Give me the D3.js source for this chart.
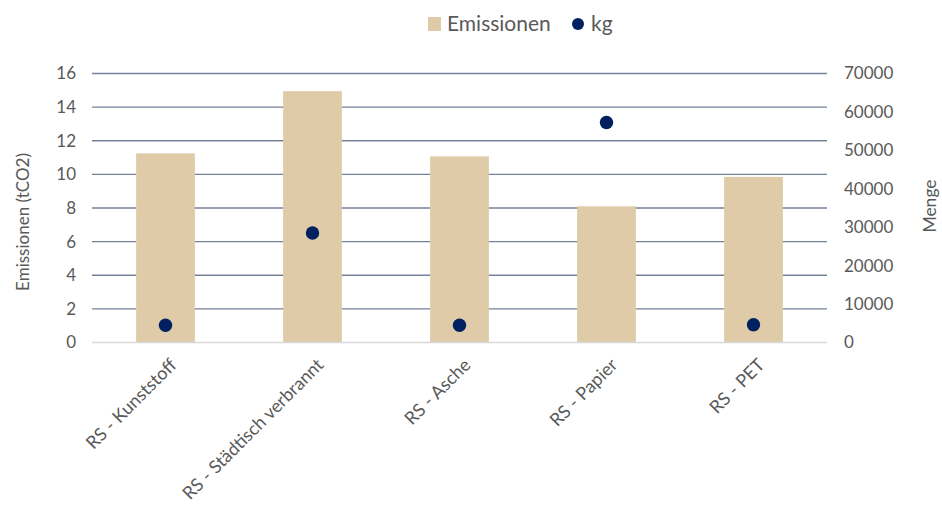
<!DOCTYPE html>
<html>
<head>
<meta charset="utf-8">
<script src="https://cdn.jsdelivr.net/npm/d3@7"></script>
<style>
  html, body { margin: 0; padding: 0; background: #fff; }
  svg text { font-family: Lato, "Open Sans", sans-serif; fill: #595959; }
</style>
</head>
<body>
<svg id="chart" width="942" height="505"></svg>
<script>
// Waste streams and their values
const categories = ["RS - Kunststoff", "RS - Städtisch verbrannt", "RS - Asche", "RS - Papier", "RS - PET"];
const emissions = [11.25, 14.95, 11.07, 8.1, 9.85];     // tCO2, bars (left axis)
const quantities = [4500, 28500, 4500, 57250, 4600];    // kg, dots (right axis)
const leftTicks = [0, 2, 4, 6, 8, 10, 12, 14, 16];
const rightTicks = [0, 10000, 20000, 30000, 40000, 50000, 60000, 70000];

const svg = d3.select("#chart");
const plot = { left: 92, right: 827, top: 73.5, bottom: 342.5 };

const x = d3.scaleBand().domain(categories).range([plot.left, plot.right])
  .paddingInner(0.6).paddingOuter(0.3);
const xc = d3.scaleBand().domain(categories).range([plot.left, plot.right]);
const yL = d3.scaleLinear().domain([0, 16]).range([plot.bottom, plot.top]);
const yR = d3.scaleLinear().domain([0, 70000]).range([plot.bottom, plot.top]);

// Horizontal gridlines
svg.append("g").selectAll("line").data(leftTicks.filter(d => d > 0)).join("line")
  .attr("x1", plot.left).attr("x2", plot.right)
  .attr("y1", d => yL(d)).attr("y2", d => yL(d))
  .attr("stroke", "#74819a").attr("stroke-width", 1.4);

// Bars
svg.append("g").selectAll("rect").data(categories).join("rect")
  .attr("x", d => x(d))
  .attr("width", x.bandwidth())
  .attr("y", (d, i) => yL(emissions[i]))
  .attr("height", (d, i) => yL(0) - yL(emissions[i]))
  .attr("fill", "#e0cba8");

// Baseline
svg.append("line")
  .attr("x1", plot.left).attr("x2", plot.right)
  .attr("y1", yL(0)).attr("y2", yL(0))
  .attr("stroke", "#d9d9d9").attr("stroke-width", 1.4);

// Dots
svg.append("g").selectAll("circle").data(categories).join("circle")
  .attr("cx", d => xc(d) + xc.bandwidth() / 2)
  .attr("cy", (d, i) => yR(quantities[i]))
  .attr("r", 6.7)
  .attr("fill", "#002060");

// Left axis
const leftAxis = d3.axisLeft(yL).tickValues(leftTicks).tickSize(0).tickPadding(16);
const gl = svg.append("g").attr("transform", `translate(${plot.left},0)`).call(leftAxis);
gl.select(".domain").remove();
gl.selectAll("text").style("font-size", "17px").attr("fill", "#595959")
  .style("font-family", "Lato, sans-serif");

// Right axis
const rightAxis = d3.axisRight(yR).tickValues(rightTicks).tickSize(0).tickPadding(17)
  .tickFormat(d3.format("d"));
const gr = svg.append("g").attr("transform", `translate(${plot.right},0)`).call(rightAxis);
gr.select(".domain").remove();
gr.selectAll("text").style("font-size", "17px").attr("fill", "#595959")
  .style("font-family", "Lato, sans-serif");

// Category labels, rotated 45 degrees and ending just under each category
svg.append("g").selectAll("text").data(categories).join("text")
  .attr("transform", d => `translate(${xc(d) + xc.bandwidth() / 2 + 3},357) rotate(-45)`)
  .attr("text-anchor", "end")
  .attr("dy", "0.72em")
  .style("font-size", "18px")
  .text(d => d);

// Axis titles
svg.append("text")
  .attr("transform", "translate(29,222) rotate(-90)")
  .attr("text-anchor", "middle")
  .style("font-size", "17px")
  .text("Emissionen (tCO2)");
svg.append("text")
  .attr("transform", "translate(936,206) rotate(-90)")
  .attr("text-anchor", "middle")
  .style("font-size", "17.5px")
  .text("Menge");

// Legend
const legend = svg.append("g");
legend.append("rect").attr("x", 428).attr("y", 17).attr("width", 13).attr("height", 14).attr("fill", "#e0cba8");
legend.append("text").attr("x", 447).attr("y", 31).style("font-size", "21px").text("Emissionen");
legend.append("circle").attr("cx", 578).attr("cy", 24).attr("r", 6).attr("fill", "#002060");
legend.append("text").attr("x", 591).attr("y", 31).style("font-size", "21px").text("kg");
</script>
</body>
</html>
